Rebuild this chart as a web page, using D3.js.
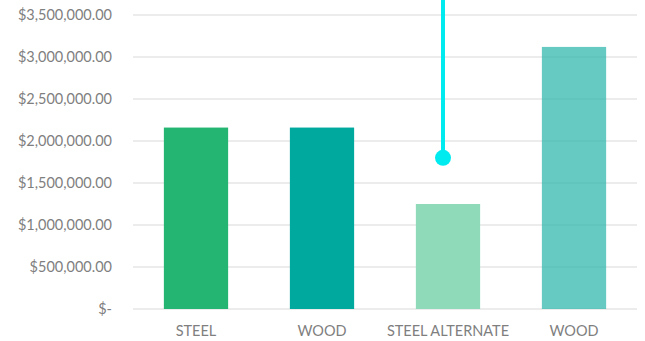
<!DOCTYPE html>
<html><head><meta charset="utf-8">
<script src="https://cdn.jsdelivr.net/npm/d3@7"></script>
<style>body{margin:0;background:#fff}svg{display:block}</style>
</head><body>
<svg id="c" width="645" height="341"></svg>
<script>
const categories = ["STEEL", "WOOD", "STEEL ALTERNATE", "WOOD"];
const values = [2160000, 2160000, 1250000, 3120000];
const barColors = ["#25b573", "#00a99d", "#8fdab8", "rgba(52,184,174,0.75)"];
const yTicks = [0, 500000, 1000000, 1500000, 2000000, 2500000, 3000000, 3500000];
const markerIndex = 2;
const markerValue = 1800000;
const markerTopValue = 4000000;

const svg = d3.select("#c");
const m = {l:133, r:8, t:15, b:32};
const W = 645, H = 341;
const x = d3.scaleBand().domain(d3.range(categories.length)).range([m.l, W-m.r]).paddingInner(0.49).paddingOuter(0.245);
const y = d3.scaleLinear().domain([0, 3500000]).range([H-m.b, m.t]);
const font = "Lato, sans-serif";

const fmt = v => v === 0 ? "$-" : "$" + d3.format(",.2f")(v);
svg.append("g").selectAll("line").data(yTicks).join("line")
  .attr("x1", m.l).attr("x2", W-m.r)
  .attr("y1", d => y(d)).attr("y2", d => y(d))
  .attr("stroke", "#d9d9d9").attr("stroke-width", 1);

svg.append("g").selectAll("text").data(yTicks).join("text")
  .attr("x", 112).attr("y", d => y(d)).attr("dy", "0.35em")
  .attr("text-anchor", "end").attr("fill", "#7f7f7f")
  .style("font-family", font).style("font-size", "14.5px")
  .text(fmt);

svg.append("g").selectAll("rect").data(values).join("rect")
  .attr("x", (d,i) => x(i)).attr("width", x.bandwidth())
  .attr("y", d => y(d)).attr("height", d => y(0) - y(d))
  .attr("fill", (d,i) => barColors[i]);

svg.append("g").selectAll("text").data(categories).join("text")
  .attr("x", (d,i) => x(i) + x.bandwidth()/2).attr("y", 336)
  .attr("text-anchor", "middle").attr("fill", "#7f7f7f")
  .style("font-family", font).style("font-size", "14.5px")
  .text(d => d);

const mx = x(markerIndex) + x.bandwidth()/2 - 5;
svg.append("line").attr("x1", mx).attr("x2", mx)
  .attr("y1", y(markerValue)).attr("y2", y(markerTopValue))
  .attr("stroke", "#00ebf0").attr("stroke-width", 4);
svg.append("circle").attr("cx", mx).attr("cy", y(markerValue)).attr("r", 8)
  .attr("fill", "#00ebf0");
</script>
</body></html>
